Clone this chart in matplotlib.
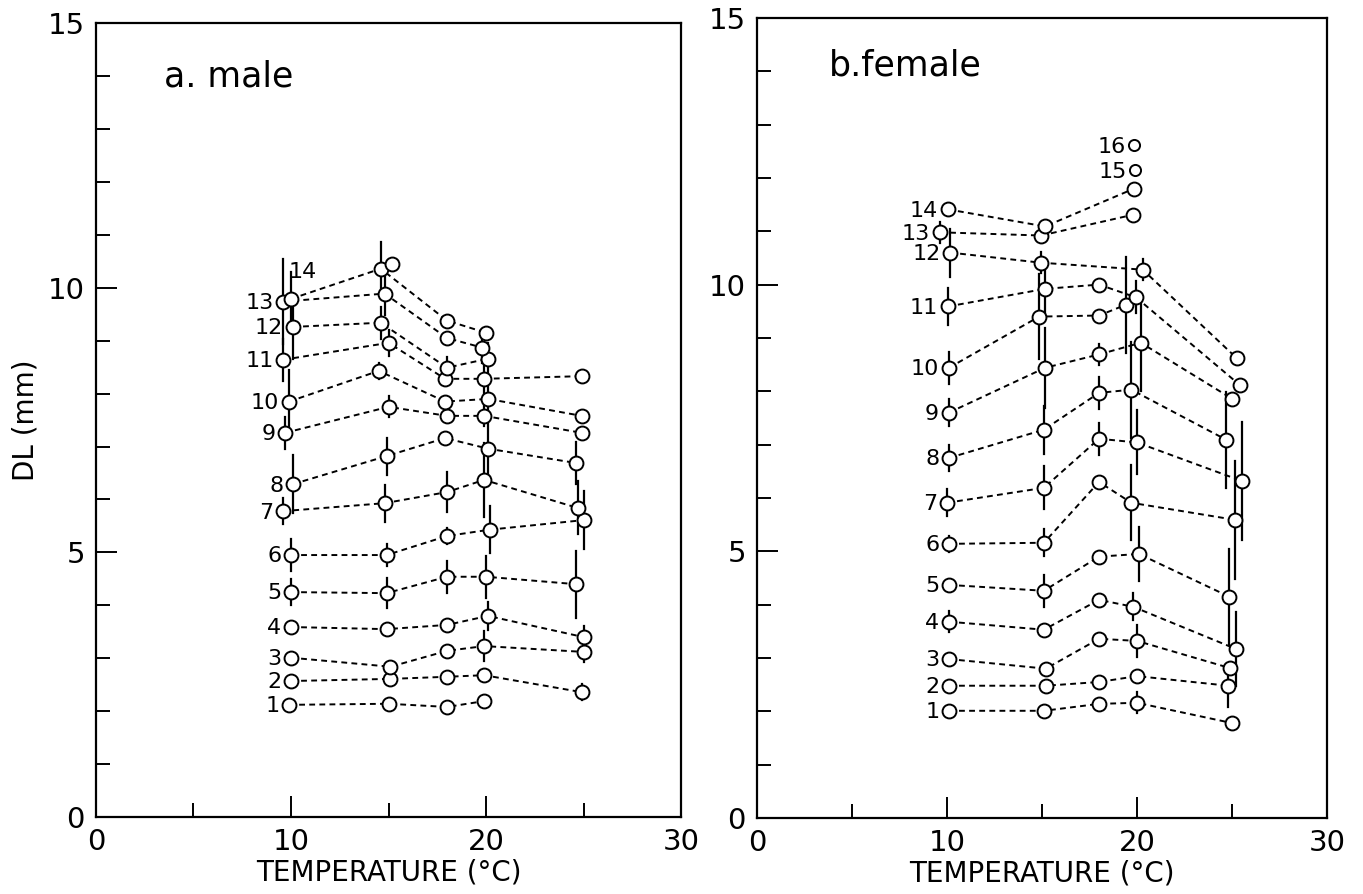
import matplotlib.pyplot as plt
from matplotlib.ticker import MultipleLocator

# male: temperature, DL, half error bar for each instar (1..14)
MALE_T = [
    [9.9, 15.0, 18.0, 19.9],
    [10.0, 15.1, 18.0, 19.9, 24.9],
    [10.0, 15.1, 18.0, 19.9, 25.0],
    [10.0, 14.9, 18.0, 20.1, 25.0],
    [10.0, 14.9, 18.0, 20.0, 24.6],
    [10.0, 14.9, 18.0, 20.2, 25.0],
    [9.6, 14.8, 18.0, 19.9, 24.7],
    [10.1, 14.9, 17.9, 20.1, 24.6],
    [9.7, 15.0, 18.0, 19.9, 24.9],
    [9.9, 14.5, 17.9, 20.1, 24.9],
    [9.6, 15.0, 17.9, 19.9, 24.9],
    [10.1, 14.6, 18.0, 20.1],
    [9.6, 14.8, 18.0, 19.8],
    [10.0, 14.6, 18.0, 20.0],
]
MALE_V = [
    [2.12, 2.14, 2.08, 2.19],
    [2.57, 2.61, 2.65, 2.68, 2.36],
    [3.01, 2.84, 3.14, 3.23, 3.12],
    [3.59, 3.55, 3.63, 3.80, 3.40],
    [4.25, 4.23, 4.54, 4.54, 4.40],
    [4.95, 4.95, 5.31, 5.43, 5.61],
    [5.78, 5.93, 6.14, 6.37, 5.84],
    [6.29, 6.82, 7.16, 6.96, 6.69],
    [7.26, 7.75, 7.58, 7.58, 7.26],
    [7.85, 8.43, 7.85, 7.90, 7.58],
    [8.64, 8.96, 8.28, 8.28, 8.33],
    [9.26, 9.34, 8.49, 8.66],
    [9.74, 9.89, 9.05, 8.87],
    [9.79, 10.36, 9.38, 9.15],
]
MALE_E = [
    [0, 0, 0, 0],
    [0, 0, 0, 0, 0.15],
    [0, 0, 0, 0.28, 0.2],
    [0, 0, 0, 0.27, 0.2],
    [0.25, 0.28, 0.3, 0.4, 0.63],
    [0.3, 0.2, 0.15, 0.45, 0.55],
    [0.25, 0.35, 0.38, 0.7, 0.5],
    [0.55, 0.35, 0, 0.7, 0.4],
    [0.3, 0.2, 0, 0.2, 0],
    [0.6, 0.15, 0, 0.4, 0],
    [0.4, 0.25, 0, 0.3, 0],
    [0.6, 0.3, 0.2, 0.3],
    [0.8, 0.4, 0, 0.3],
    [0.5, 0.5, 0, 0],
]
MALE_EXTRA_T = [15.2]
MALE_EXTRA_V = [10.44]

FEMALE_T = [
    [10.1, 15.1, 18.0, 20.0, 25.0],
    [10.1, 15.2, 18.0, 20.0, 24.8],
    [10.1, 15.2, 18.0, 20.0, 24.9],
    [10.1, 15.1, 18.0, 19.8, 25.2],
    [10.1, 15.1, 18.0, 20.1, 24.85],
    [10.1, 15.1, 18.0, 19.7, 25.15],
    [10.0, 15.1, 18.0, 20.0, 25.5],
    [10.1, 15.1, 18.0, 19.7, 24.7],
    [10.1, 15.16, 18.0, 20.2, 25.0],
    [10.1, 14.85, 18.0, 19.4],
    [10.05, 15.16, 18.0, 19.95, 25.4],
    [10.16, 14.95, 20.3, 25.25],
    [9.63, 14.95, 19.8],
    [10.05, 15.16, 19.85],
]
FEMALE_V = [
    [2.01, 2.01, 2.14, 2.16, 1.78],
    [2.48, 2.48, 2.55, 2.66, 2.48],
    [2.98, 2.80, 3.36, 3.32, 2.81],
    [3.68, 3.53, 4.09, 3.96, 3.17],
    [4.37, 4.26, 4.90, 4.95, 4.15],
    [5.14, 5.16, 6.30, 5.91, 5.59],
    [5.91, 6.19, 7.11, 7.04, 6.32],
    [6.75, 7.28, 7.97, 8.03, 7.09],
    [7.60, 8.44, 8.69, 8.91, 7.86],
    [8.44, 9.40, 9.42, 9.62],
    [9.59, 9.92, 10.00, 9.76, 8.12],
    [10.60, 10.41, 10.28, 8.62],
    [10.98, 10.92, 11.31],
    [11.41, 11.09, 11.80],
]
FEMALE_E = [
    [0, 0, 0, 0.2, 0],
    [0, 0, 0, 0, 0.4],
    [0, 0, 0, 0.3, 0],
    [0.2, 0, 0, 0.25, 0.7],
    [0, 0.3, 0, 0.5, 0.9],
    [0.15, 0.25, 0, 0.7, 1.1],
    [0.25, 0.4, 0.3, 0.6, 1.1],
    [0.25, 0.45, 0.3, 0.9, 0.9],
    [0.25, 0.75, 0.2, 0.9, 0],
    [0.3, 0.8, 0, 0.9],
    [0.35, 0.5, 0, 0.3, 0],
    [0.45, 0.2, 0.2, 0],
    [0.2, 0, 0],
    [0, 0, 0],
]
FEMALE_EXTRA_T = [19.9, 19.85]
FEMALE_EXTRA_V = [12.14, 12.61]
FEMALE_EXTRA_LABELS = ["15", "16"]

ROW_LABELS = [str(i) for i in range(1, 15)]

plt.rcParams["font.family"] = "DejaVu Sans"

fig = plt.figure(figsize=(13.63, 8.94), dpi=100)
ax_m = fig.add_axes([0.0704, 0.0861, 0.4293, 0.888])
ax_f = fig.add_axes([0.5554, 0.0850, 0.4182, 0.8950])

MARK = dict(marker="o", ms=10, mfc="white", mec="black", mew=1.4)
LAB_SIZE = 16


def draw_rows(ax, ts, vs, es):
    for t, v, e in zip(ts, vs, es):
        ax.plot(t, v, color="black", lw=1.4, ls=(0, (3, 2.2)), zorder=2)
        for ti, vi, ei in zip(t, v, e):
            if ei > 0:
                ax.plot([ti, ti], [vi - ei, vi + ei], color="black",
                        lw=1.6, zorder=2)
        ax.plot(t, v, ls="none", zorder=3, **MARK)


def style_axes(ax):
    ax.set_xlim(0, 30)
    ax.set_ylim(0, 15)
    ax.xaxis.set_major_locator(MultipleLocator(10))
    ax.xaxis.set_minor_locator(MultipleLocator(5))
    ax.yaxis.set_major_locator(MultipleLocator(5))
    ax.yaxis.set_minor_locator(MultipleLocator(1))
    ax.tick_params(which="both", direction="in", top=False, right=False,
                   width=1.4, labelsize=21, pad=8)
    ax.tick_params(which="major", length=15)
    ax.tick_params(which="minor", length=10)
    for sp in ax.spines.values():
        sp.set_linewidth(1.6)
    ax.set_xlabel("TEMPERATURE (°C)", fontsize=20, labelpad=2)


draw_rows(ax_m, MALE_T, MALE_V, MALE_E)
ax_m.plot(MALE_EXTRA_T, MALE_EXTRA_V, ls="none", zorder=3, **MARK)
for lab, t, v in zip(ROW_LABELS, MALE_T, MALE_V):
    if lab == "14":
        ax_m.annotate(lab, (t[0], v[0]), xytext=(-2, 12),
                      textcoords="offset points", fontsize=LAB_SIZE,
                      ha="left", va="bottom")
    else:
        ax_m.annotate(lab, (t[0], v[0]), xytext=(-7, -1),
                      textcoords="offset points", fontsize=LAB_SIZE,
                      ha="right", va="center")

draw_rows(ax_f, FEMALE_T, FEMALE_V, FEMALE_E)
ax_f.plot(FEMALE_EXTRA_T, FEMALE_EXTRA_V, ls="none", zorder=3,
          marker="o", ms=8, mfc="white", mec="black", mew=1.4)
for lab, t, v in zip(ROW_LABELS, FEMALE_T, FEMALE_V):
    ax_f.annotate(lab, (t[0], v[0]), xytext=(-7, -1),
                  textcoords="offset points", fontsize=LAB_SIZE,
                  ha="right", va="center")
for lab, t, v in zip(FEMALE_EXTRA_LABELS, FEMALE_EXTRA_T, FEMALE_EXTRA_V):
    ax_f.annotate(lab, (t, v), xytext=(-6, -1),
                  textcoords="offset points", fontsize=LAB_SIZE,
                  ha="right", va="center")

style_axes(ax_m)
style_axes(ax_f)

ax_m.text(3.5, 14.0, "a. male", fontsize=25, va="center")
ax_f.text(3.8, 14.1, "b.female", fontsize=25, va="center")
ax_m.set_ylabel("DL (mm)", fontsize=20)
ax_m.yaxis.set_label_coords(-0.096, 0.5)

fig.savefig("out.png", dpi=100)
